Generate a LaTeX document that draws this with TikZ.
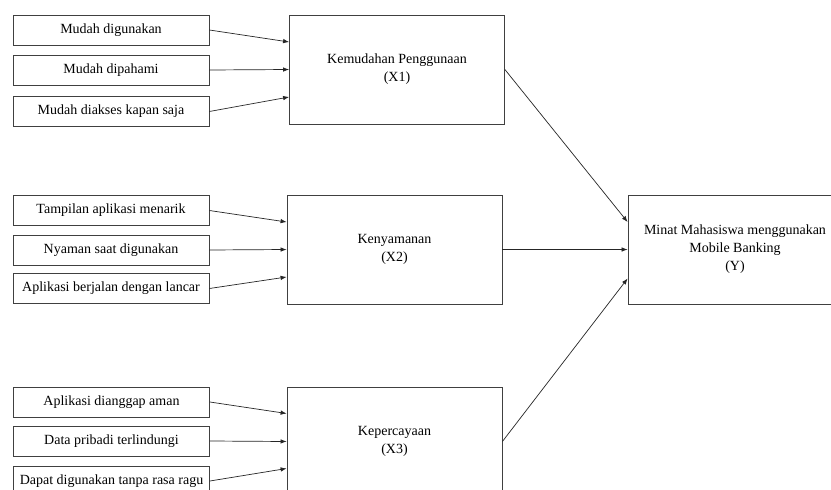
\documentclass[tikz,border=0pt]{standalone}
\usepackage{fontspec}
\setmainfont{Liberation Serif}
\usepackage{tikz}
\usetikzlibrary{arrows.meta}

\begin{document}
\begin{tikzpicture}[x=1pt,y=-1pt,
    ind/.style={draw=black!75,line width=0.8pt,minimum width=196pt,minimum height=30pt,
      inner sep=0pt,font=\fontsize{14}{18}\selectfont},
    var/.style={draw=black!75,line width=0.8pt,minimum width=215pt,minimum height=109pt,
      inner sep=0pt,align=center,font=\fontsize{14}{18}\selectfont},
    arr/.style={-{Latex[length=6pt,width=4.5pt]},draw=black!85,line width=0.7pt}]
  \useasboundingbox (0,0) rectangle (831,490);
  \clip (0,0) rectangle (831,490);
  \fill[white] (0,0) rectangle (831,490);
  % kemudahan penggunaan
  \node[ind] (a1) at (111,30) {Mudah digunakan};
  \node[ind] (a2) at (111,70) {Mudah dipahami};
  \node[ind] (a3) at (111,111.5) {Mudah diakses kapan saja};
  \node[var] (x1) at (397,69.5) {Kemudahan Penggunaan\\(X1)};
  \draw[arr] (a1.east) -- ([yshift=27.5pt]x1.west);
  \draw[arr] (a2.east) -- (x1.west);
  \draw[arr] (a3.east) -- ([yshift=-27.5pt]x1.west);
  % kenyamanan
  \node[ind] (b1) at (111,210.5) {Tampilan aplikasi menarik};
  \node[ind] (b2) at (111,250) {Nyaman saat digunakan};
  \node[ind] (b3) at (111,288.5) {Aplikasi berjalan dengan lancar};
  \node[var] (x2) at (394.5,249.5) {Kenyamanan\\(X2)};
  \draw[arr] (b1.east) -- ([yshift=27.5pt]x2.west);
  \draw[arr] (b2.east) -- (x2.west);
  \draw[arr] (b3.east) -- ([yshift=-27.5pt]x2.west);
  % kepercayaan
  \node[ind] (c1) at (111.5,402) {Aplikasi dianggap aman};
  \node[ind] (c2) at (111.5,441) {Data pribadi terlindungi};
  \node[ind] (c3) at (111.5,481) {Dapat digunakan tanpa rasa ragu};
  \node[var] (x3) at (394.5,441.5) {Kepercayaan\\(X3)};
  \draw[arr] (c1.east) -- ([yshift=28pt]x3.west);
  \draw[arr] (c2.east) -- (x3.west);
  \draw[arr] (c3.east) -- ([yshift=-27pt]x3.west);
  % minat
  \node[var,minimum width=214pt] (y) at (735,249.5) {Minat Mahasiswa menggunakan\\Mobile Banking\\(Y)};
  \draw[arr] (x1.east) -- ([yshift=27.5pt]y.west);
  \draw[arr] (x2.east) -- (y.west);
  \draw[arr] (x3.east) -- ([yshift=-29pt]y.west);
\end{tikzpicture}
\end{document}
